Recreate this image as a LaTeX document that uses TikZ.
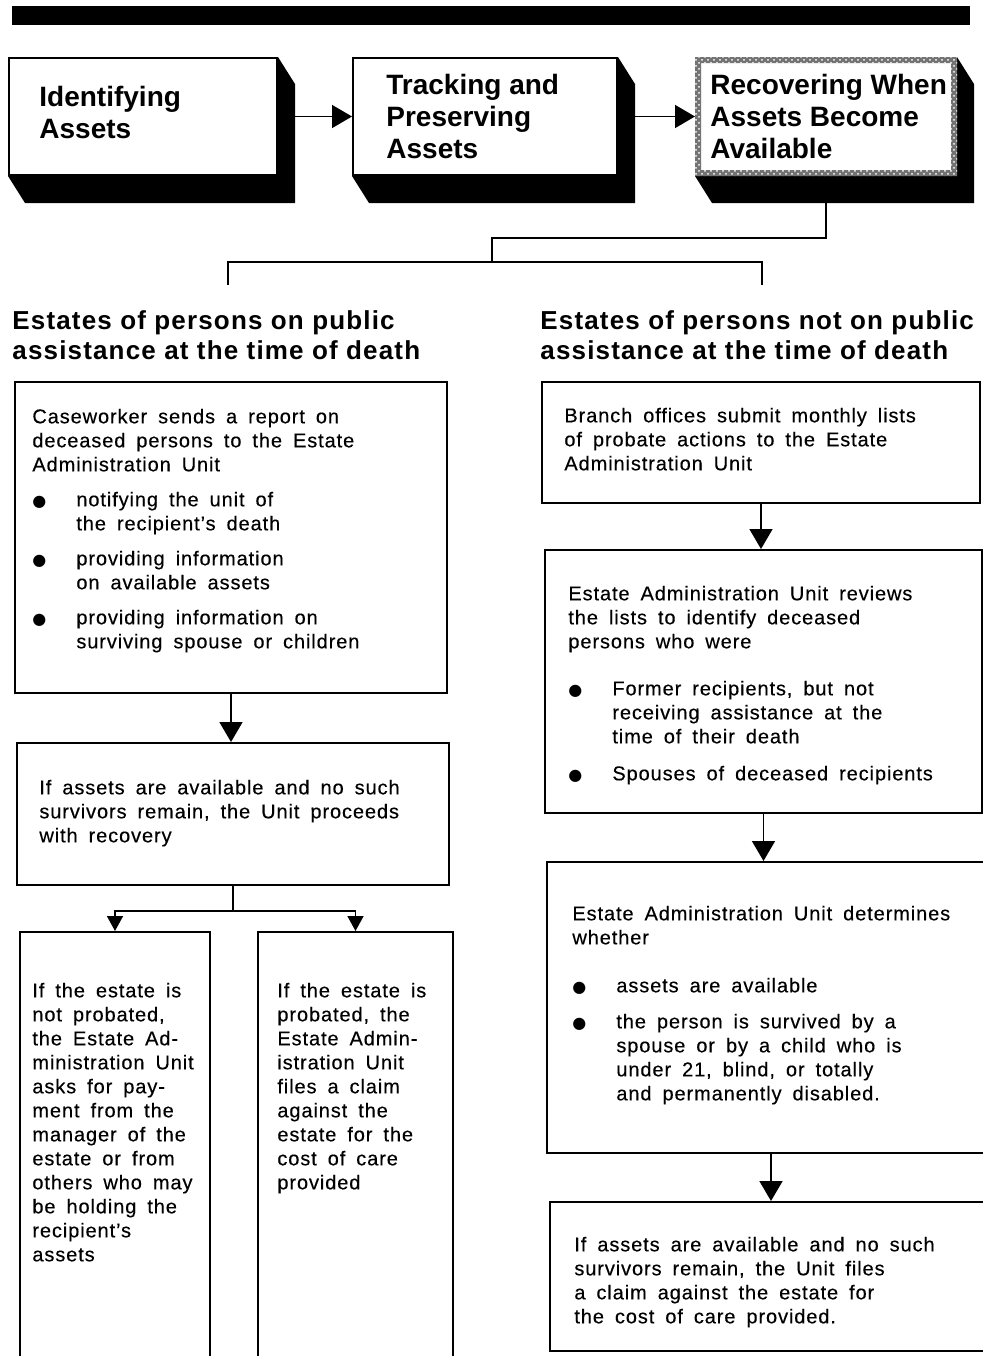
\documentclass[tikz,border=0pt]{standalone}
\usepackage{fontspec}
\setmainfont{Liberation Sans}[LetterSpace=4.5,WordSpace=1.7,FakeBold=0.3]
\newfontfamily\headfont{Liberation Sans}[LetterSpace=4.5]
\newfontfamily\stagefont{Liberation Sans}
\newfontfamily\dotfont{DejaVu Sans}
\usepackage{tikz}
\usetikzlibrary{positioning,arrows.meta,patterns,calc}
\tikzstyle{block}=[draw,line width=1pt,fill=white,rectangle,inner sep=0pt]
\tikzstyle{blurb}=[inner sep=0pt,align=left,font=\fontsize{10}{12}\selectfont]
\newcommand{\bul}{\makebox[22pt][l]{\dotfont\fontsize{8}{8}\selectfont ●}}
\newcommand{\ind}{\hspace*{22pt}}

\begin{document}
\begin{tikzpicture}[
  x=0.5pt,y=-0.5pt,
  link/.style={line width=0.8pt},
  bigarrow/.style={link,-{Triangle[length=10pt,width=11.5pt]}},
  smallarrow/.style={link,-{Triangle[length=7.5pt,width=8pt]}},
  heading/.style={inner sep=0pt,align=left,font=\headfont\bfseries\fontsize{13}{15}\selectfont},
  stage/.style={inner sep=0pt,align=left,font=\stagefont\bfseries\fontsize{14}{16}\selectfont}
]
\useasboundingbox (0,0) rectangle (983,1356);
\fill (12,6) rectangle (970,25);

% the three stages
\node [block, minimum width=134pt, minimum height=58.5pt] (B1) at (143,116.5) {};
\node [block, minimum width=132pt, minimum height=58.5pt] (B2) at (485,116.5) {};
\node [block, draw=none, minimum width=130pt, minimum height=58.5pt] (B3) at (826,116.5) {};
\foreach \b in {B1,B2,B3}
  \fill (\b.north east) -- ++(17,27) -- ($(\b.south east)+(17,27)$)
    -- ($(\b.south west)+(17,27)$) -- (\b.south west) -- (\b.south east) -- cycle;
\path [fill=black!55, even odd rule]
  (B3.north west) rectangle (B3.south east)
  ([shift={(3pt,-3pt)}]B3.north west) rectangle ([shift={(-3pt,3pt)}]B3.south east);
\path [pattern=crosshatch dots, pattern color=white, even odd rule]
  (B3.north west) rectangle (B3.south east)
  ([shift={(3pt,-3pt)}]B3.north west) rectangle ([shift={(-3pt,3pt)}]B3.south east);
\node [stage, below right=14.3pt and 15.5pt of B1.north west] (B1text) {Identifying\\Assets};
\node [stage, below right=8.3pt and 17pt of B2.north west] (B2text) {Tracking and\\Preserving\\Assets};
\node [stage, below right=8.3pt and 7.5pt of B3.north west] (B3text) {Recovering When\\Assets Become\\Available};
\draw [bigarrow] ([xshift=8.5pt]B1.east) -- (B2.west);
\draw [bigarrow] ([xshift=8.5pt]B2.east) -- (B3.west);

% headings
\node [heading, anchor=north west] (HL) at (12,310)
  {Estates of persons on public\\assistance at the time of death};
\node [heading, anchor=north west] (HR) at (540,310)
  {Estates of persons not on public\\assistance at the time of death};
\coordinate (fork) at (492,262);
\draw [link] ([yshift=-13.5pt]B3.south) |- ([yshift=12pt]fork) -- (fork);
\draw [link] ([shift={(108pt,12.5pt)}]HL.north west) |- (fork)
  -| ([shift={(111pt,12.5pt)}]HR.north west);

% left column
\node [block, minimum width=216pt, minimum height=155.5pt] (LA) at (231,537.5) {};
\node [blurb, below right=13.7pt and 9pt of LA.north west] (LAtext) {%
  Caseworker sends a report on\\
  deceased persons to the Estate\\
  Administration Unit\\[5.5pt]
  \bul notifying the unit of\\
  \ind the recipient's death\\[5.5pt]
  \bul providing information\\
  \ind on available assets\\[5.5pt]
  \bul providing information on\\
  \ind surviving spouse or children};
\node [block, minimum width=216pt, minimum height=71pt] (LB) at (233,814) {};
\node [blurb, below right=18.7pt and 11.5pt of LB.north west] (LBtext) {%
  If assets are available and no such\\
  survivors remain, the Unit proceeds\\
  with recovery};
\node [block, minimum width=95pt, minimum height=219pt] (LC1) at (115,1151) {};
\node [blurb, below right=25.7pt and 6.5pt of LC1.north west] (LC1text) {%
  If the estate is\\ not probated,\\ the Estate Ad-\\ ministration Unit\\
  asks for pay-\\ ment from the\\ manager of the\\ estate or from\\
  others who may\\ be holding the\\ recipient's\\ assets};
\node [block, minimum width=97.5pt, minimum height=219pt] (LC2) at (355.5,1151) {};
\node [blurb, below right=25.7pt and 10pt of LC2.north west] (LC2text) {%
  If the estate is\\ probated, the\\ Estate Admin-\\ istration Unit\\
  files a claim\\ against the\\ estate for the\\ cost of care\\ provided};
\draw [bigarrow] (LA.south) -- (LA.south |- LB.north);
\coordinate (join) at ($(LB.south)+(0,25)$);
\draw [link] (LB.south) -- (join);
\draw [smallarrow] (join) -| (LC1.north);
\draw [smallarrow] (join) -| (LC2.north);

% right column
\node [block, minimum width=219pt, minimum height=60.5pt] (RA) at (761,442.5) {};
\node [blurb, below right=13.2pt and 11.5pt of RA.north west] (RAtext) {%
  Branch offices submit monthly lists\\
  of probate actions to the Estate\\
  Administration Unit};
\node [block, minimum width=218.5pt, minimum height=131.5pt] (RB) at (763.5,681.5) {};
\node [blurb, below right=18.2pt and 12pt of RB.north west] (RBtext) {%
  Estate Administration Unit reviews\\
  the lists to identify deceased\\
  persons who were\\[11.5pt]
  \bul Former recipients, but not\\
  \ind receiving assistance at the\\
  \ind time of their death\\[6.5pt]
  \bul Spouses of deceased recipients};
\node [block, minimum width=224pt, minimum height=145.5pt] (RC) at (771,1007.5) {};
\node [blurb, below right=22.2pt and 13pt of RC.north west] (RCtext) {%
  Estate Administration Unit determines\\
  whether\\[12pt]
  \bul assets are available\\[6pt]
  \bul the person is survived by a\\
  \ind spouse or by a child who is\\
  \ind under 21, blind, or totally\\
  \ind and permanently disabled.};
\node [block, minimum width=222pt, minimum height=74.5pt] (RD) at (772,1276.5) {};
\node [blurb, below right=17.7pt and 12.5pt of RD.north west] (RDtext) {%
  If assets are available and no such\\
  survivors remain, the Unit files\\
  a claim against the estate for\\
  the cost of care provided.};
\draw [bigarrow] (RA.south) -- (RA.south |- RB.north);
\draw [bigarrow] (RB.south) -- (RB.south |- RC.north);
\draw [bigarrow] (RC.south) -- (RC.south |- RD.north);
\end{tikzpicture}
\end{document}
